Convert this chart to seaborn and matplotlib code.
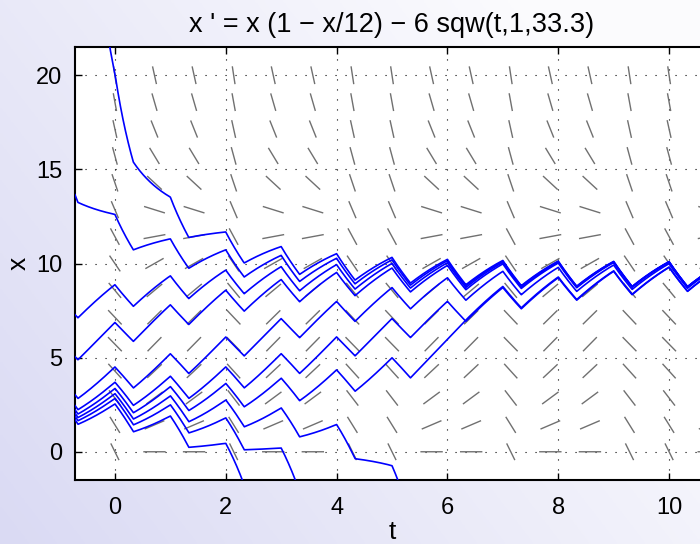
import numpy as np
import pandas as pd
import matplotlib
matplotlib.use("Agg")
import matplotlib.pyplot as plt
import seaborn as sns

# ---- data ----
title_text = "x ' = x (1 \u2212 x/12) \u2212 6 sqw(t,1,33.3)"
r_growth = 1.0
capacity = 12.0
harvest = 6.0
sqw_period = 1.0
sqw_duty = 33.3
t_window = [-0.72, 10.72]
x_window = [-1.5, 21.5]
t_ticks = [0, 2, 4, 6, 8, 10]
x_ticks = [0, 5, 10, 15, 20]
# points (t, x) read on each plotted solution; each is integrated both ways
start_t = [0.0, -0.72, -0.72, -0.72, -0.72, 4.0, 4.0, 5.0, 3.0, 2.0]
start_x = [20.1, 13.65, 7.28, 5.05, 3.03, 6.1, 4.35, -0.74, 0.2, 0.45]
# one solution in the reference jumps (straight solver step) over a harvest:
jump_sol = 6
jump_from_t = 5.333
jump_to_t = 6.333
jump_to_x = 7.0
# direction field grid
field_t = [k * 10 / 14 for k in range(0, 16)]
field_x = [k * 20 / 14 for k in range(0, 15)]


def sqw(t):
    return np.where(np.mod(t, sqw_period) < sqw_period * sqw_duty / 100.0, 1.0, 0.0)


def rhs(t, x):
    return r_growth * x * (1 - x / capacity) - harvest * sqw(t)


def solve(t0, x0, direction, dt=0.0005, t_stop=None):
    ts, xs = [t0], [x0]
    t, x = t0, x0
    h = dt * direction
    while t_window[0] - 0.05 <= t <= t_window[1] + 0.05 and x_window[0] - 2 <= x <= x_window[1] + 2:
        if t_stop is not None and t >= t_stop:
            break
        k1 = rhs(t, x)
        k2 = rhs(t + h / 2, x + h / 2 * k1)
        k3 = rhs(t + h / 2, x + h / 2 * k2)
        k4 = rhs(t + h, x + h * k3)
        x = x + h / 6 * (k1 + 2 * k2 + 2 * k3 + k4)
        t = t + h
        ts.append(t)
        xs.append(float(x))
    return ts, xs


rows = []
for i, (t0, x0) in enumerate(zip(start_t, start_x)):
    tb, xb = solve(t0, x0, -1)
    if i == jump_sol:
        tf, xf = solve(t0, x0, 1, t_stop=jump_from_t)
        tj, xj = solve(jump_to_t, jump_to_x, 1)
        tf, xf = tf + tj, xf + xj
    else:
        tf, xf = solve(t0, x0, 1)
    tt = tb[::-1] + tf[1:]
    xx = xb[::-1] + xf[1:]
    for a, b in zip(tt, xx):
        rows.append((i, a, b))
traj = pd.DataFrame(rows, columns=["sol", "t", "x"])

# ---- figure ----
W, H = 700, 544
fig = plt.figure(figsize=(W / 100, H / 100), dpi=100)

# background gradient
bg = fig.add_axes([0, 0, 1, 1], zorder=-10)
gx, gy = np.meshgrid(np.linspace(0, 1, 200), np.linspace(0, 1, 200))
f = np.clip(0.75 * gx + 0.45 * gy, 0, 1)
c0 = np.array([0.855, 0.855, 0.955])
c1 = np.array([0.985, 0.985, 0.995])
img = c0[None, None, :] * (1 - f[..., None]) + c1[None, None, :] * f[..., None]
bg.imshow(img, origin="lower", extent=[0, 1, 0, 1], aspect="auto")
bg.set_axis_off()

ax_left, ax_bottom = 75 / W, (H - 480) / H
ax_w, ax_h = 634 / W, 433 / H
ax = fig.add_axes([ax_left, ax_bottom, ax_w, ax_h])
ax.set_facecolor("white")
ax.set_xlim(t_window)
ax.set_ylim(x_window)

# direction field (segments centred on grid points)
pxu = ax_w * W / (t_window[1] - t_window[0])
pyu = ax_h * H / (x_window[1] - x_window[0])
a_half, b_half = 10.5, 8.3
TT, XX = np.meshgrid(field_t, field_x)
S = rhs(TT, XX)
px = np.ones_like(S) * pxu
py = S * pyu
k = 1.0 / np.sqrt((px / a_half) ** 2 + (py / b_half) ** 2)
dt_half = px * k / pxu
dx_half = py * k / pyu
seg_t, seg_x = [], []
for t_c, x_c, ht, hx in zip(TT.ravel(), XX.ravel(), dt_half.ravel(), dx_half.ravel()):
    seg_t += [t_c - ht, t_c + ht, np.nan]
    seg_x += [x_c - hx, x_c + hx, np.nan]
ax.plot(seg_t, seg_x, color="#707070", lw=1.0, zorder=2)

sns.lineplot(data=traj, x="t", y="x", units="sol", estimator=None, sort=False,
             color="#0000ff", lw=1.2, ax=ax, zorder=3, legend=False)

ax.set_xticks(t_ticks)
ax.set_yticks(x_ticks)
ax.grid(True, color="black", linestyle=(0, (1, 8)), lw=0.8)
ax.tick_params(direction="in", length=5, width=1, labelsize=17, top=True, right=True,
               labelfontfamily="Liberation Sans")
ax.tick_params(axis="x", pad=12)
ax.tick_params(axis="y", pad=9)
for s in ax.spines.values():
    s.set_linewidth(1.5)
ax.set_xlabel("t", fontsize=19, family="Liberation Sans", labelpad=1)
ax.set_ylabel("x", fontsize=19, family="Liberation Sans", labelpad=4)
ax.set_title(title_text, fontsize=19.5, family="Liberation Sans", pad=11)

fig.savefig("out.png", dpi=100)
